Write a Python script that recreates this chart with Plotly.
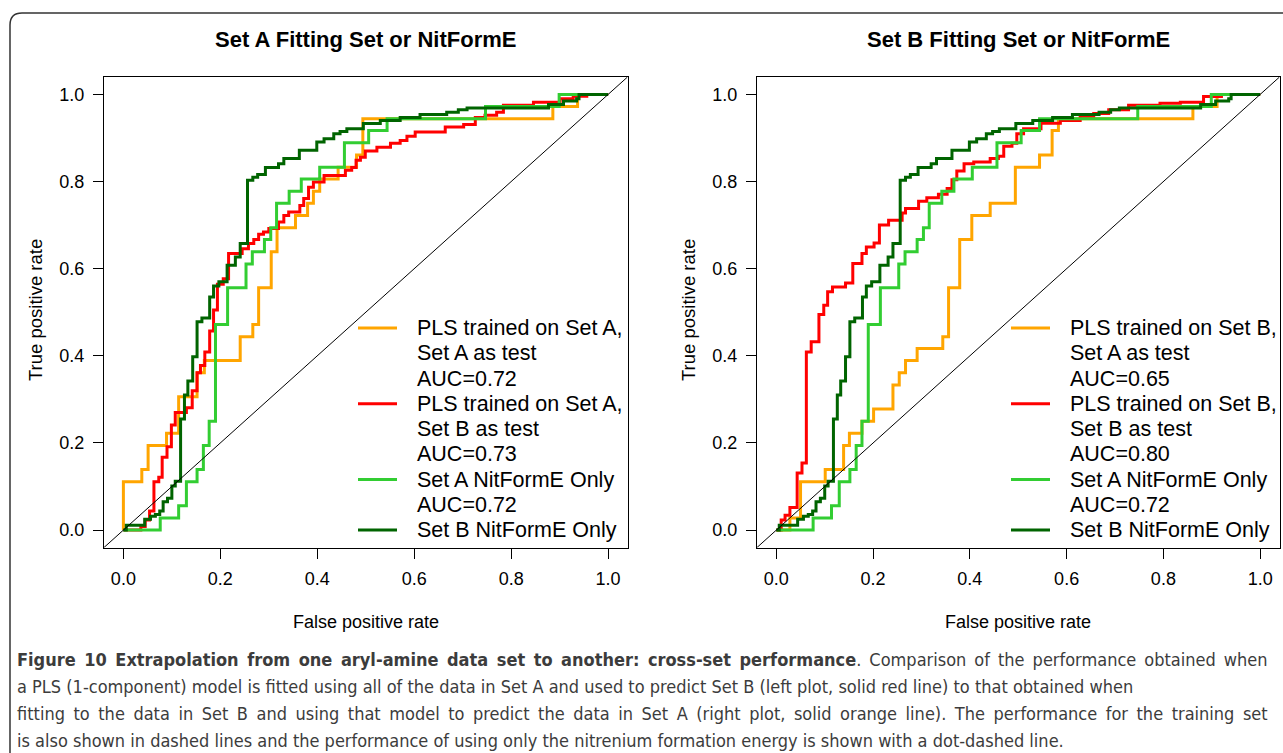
import plotly.graph_objects as go

W, H = 1283, 753

# ---- ROC step vertices (false positive rate, true positive rate) ----
# Left panel: PLS trained on Set A, Set A as test
plsA_testA_fpr = [0, 0, 0.038, 0.051, 0.089, 0.114, 0.152, 0.167, 0.241, 0.267, 0.279, 0.305,
                  0.317, 0.355, 0.38, 0.392, 0.405, 0.443, 0.481, 0.494, 0.886, 0.937, 1.0]
plsA_testA_tpr = [0, 0.111, 0.139, 0.194, 0.222, 0.306, 0.361, 0.389, 0.444, 0.472, 0.556, 0.639,
                  0.694, 0.722, 0.75, 0.778, 0.806, 0.833, 0.861, 0.944, 0.972, 1.0, 1.0]

# Left panel: PLS trained on Set A, Set B as test
plsA_testB_fpr = [0, 0.036, 0.045, 0.054, 0.063, 0.073, 0.08, 0.09, 0.099, 0.107, 0.13, 0.142,
                  0.152, 0.159, 0.168, 0.178, 0.186, 0.194, 0.206, 0.217, 0.245, 0.258, 0.269,
                  0.279, 0.289, 0.3, 0.32, 0.331, 0.341, 0.364, 0.372, 0.382, 0.392, 0.414,
                  0.458, 0.471, 0.48, 0.489, 0.499, 0.523, 0.551, 0.571, 0.585, 0.602, 0.664,
                  0.702, 0.726, 0.746, 0.77, 0.784, 0.846, 0.901, 0.928, 0.956, 1.0]
plsA_testB_tpr = [0, 0.008, 0.023, 0.044, 0.111, 0.121, 0.167, 0.191, 0.241, 0.27, 0.281, 0.32,
                  0.361, 0.378, 0.409, 0.457, 0.505, 0.564, 0.577, 0.635, 0.646, 0.658, 0.667,
                  0.679, 0.684, 0.692, 0.707, 0.722, 0.73, 0.745, 0.761, 0.787, 0.799, 0.814,
                  0.826, 0.832, 0.849, 0.856, 0.87, 0.879, 0.888, 0.894, 0.904, 0.914, 0.925,
                  0.931, 0.947, 0.952, 0.959, 0.975, 0.982, 0.99, 0.996, 1.0, 1.0]

# Right panel: PLS trained on Set B, Set A as test
plsB_testA_fpr = [0, 0.028, 0.05, 0.101, 0.139, 0.151, 0.177, 0.201, 0.241, 0.254, 0.267, 0.291,
                  0.344, 0.356, 0.379, 0.404, 0.442, 0.494, 0.544, 0.57, 0.583, 0.861, 0.911, 1.0]
plsB_testA_tpr = [0, 0.028, 0.111, 0.139, 0.194, 0.222, 0.25, 0.278, 0.333, 0.361, 0.389, 0.417,
                  0.444, 0.556, 0.667, 0.722, 0.75, 0.833, 0.861, 0.917, 0.944, 0.972, 1.0, 1.0]

# Right panel: PLS trained on Set B, Set B as test
plsB_testB_fpr = [0, 0.01, 0.018, 0.028, 0.043, 0.053, 0.062, 0.072, 0.088, 0.098, 0.106, 0.116,
                  0.143, 0.158, 0.177, 0.186, 0.202, 0.213, 0.232, 0.26, 0.267, 0.294, 0.311,
                  0.335, 0.353, 0.363, 0.373, 0.388, 0.408, 0.442, 0.459, 0.47, 0.487, 0.497,
                  0.511, 0.547, 0.587, 0.628, 0.656, 0.687, 0.728, 0.793, 0.835, 0.883, 0.92, 1.0]
plsB_testB_tpr = [0, 0.023, 0.034, 0.052, 0.131, 0.154, 0.409, 0.432, 0.495, 0.516, 0.547, 0.558,
                  0.567, 0.612, 0.635, 0.65, 0.659, 0.7, 0.711, 0.728, 0.738, 0.755, 0.763,
                  0.771, 0.784, 0.804, 0.824, 0.841, 0.845, 0.853, 0.858, 0.881, 0.888, 0.91,
                  0.921, 0.934, 0.94, 0.95, 0.956, 0.965, 0.975, 0.98, 0.982, 0.995, 1.0, 1.0]

# Both panels: nitrenium formation energy alone
nitA_fpr = [0, 0.076, 0.114, 0.13, 0.152, 0.165, 0.177, 0.19, 0.215, 0.253, 0.266, 0.291, 0.304,
            0.316, 0.342, 0.367, 0.405, 0.456, 0.506, 0.544, 0.747, 0.899, 1.0]
nitA_tpr = [0, 0.028, 0.056, 0.111, 0.139, 0.194, 0.25, 0.472, 0.556, 0.611, 0.639, 0.667, 0.694,
            0.75, 0.778, 0.806, 0.833, 0.889, 0.917, 0.944, 0.972, 1.0, 1.0]

nitB_fpr = [0, 0.006, 0.044, 0.056, 0.066, 0.075, 0.082, 0.091, 0.1, 0.107, 0.118, 0.126, 0.133,
            0.143, 0.152, 0.162, 0.178, 0.186, 0.197, 0.214, 0.231, 0.241, 0.256, 0.267, 0.277,
            0.293, 0.32, 0.331, 0.363, 0.399, 0.414, 0.434, 0.447, 0.461, 0.495, 0.53, 0.571,
            0.612, 0.667, 0.691, 0.709, 0.877, 0.908, 0.935, 0.94, 1.0]
nitB_tpr = [0, 0.011, 0.025, 0.032, 0.036, 0.044, 0.065, 0.073, 0.101, 0.112, 0.255, 0.31, 0.342,
            0.398, 0.478, 0.487, 0.535, 0.56, 0.57, 0.608, 0.627, 0.658, 0.803, 0.81, 0.816,
            0.832, 0.841, 0.853, 0.872, 0.891, 0.898, 0.91, 0.915, 0.921, 0.933, 0.94, 0.947,
            0.954, 0.959, 0.965, 0.969, 0.977, 0.985, 0.99, 1.0, 1.0]

# ---- text ----
panel_titles = ["Set A Fitting Set or NitFormE", "Set B Fitting Set or NitFormE"]
tick_vals = [0.0, 0.2, 0.4, 0.6, 0.8, 1.0]
tick_text = ["0.0", "0.2", "0.4", "0.6", "0.8", "1.0"]
x_title = "False positive rate"
y_title = "True positive rate"

legend_left = ["PLS trained on Set A,", "Set A as test", "AUC=0.72",
               "PLS trained on Set A,", "Set B as test", "AUC=0.73",
               "Set A NitFormE Only", "AUC=0.72", "Set B NitFormE Only"]
legend_right = ["PLS trained on Set B,", "Set A as test", "AUC=0.65",
                "PLS trained on Set B,", "Set B as test", "AUC=0.80",
                "Set A NitFormE Only", "AUC=0.72", "Set B NitFormE Only"]
legend_rows = [0, 3, 6, 8]  # text row carrying each coloured key line

caption_lines = [
    "<b>Figure 10 Extrapolation from one aryl-amine data set to another: cross-set performance</b>. "
    "Comparison of the performance obtained when",
    "a PLS (1-component) model is fitted using all of the data in Set A and used to predict Set B "
    "(left plot, solid red line) to that obtained when",
    "fitting to the data in Set B and using that model to predict the data in Set A "
    "(right plot, solid orange line). The performance for the training set",
    "is also shown in dashed lines and the performance of using only the nitrenium formation "
    "energy is shown with a dot-dashed line.",
]
# extra inter-word space (px) so justified caption lines reach the right margin
caption_word_spacing = [2.9, 0, 3.4, 0]

colors = ["#FFA500", "#FF0000", "#32CD32", "#006400"]

FONT = "Liberation Sans, Arial, sans-serif"
CAP_FONT = "Liberation Sans Narrow, DejaVu Sans Condensed, Arial Narrow, Liberation Sans, sans-serif"


def fx(p):
    return p / W


def fy(p):
    return 1 - p / H


panels = [
    dict(xa="x", ya="y", left=104, right=627.5, cx=365.5, ylab_x=35,
         curves=[(plsA_testA_fpr, plsA_testA_tpr), (plsA_testB_fpr, plsA_testB_tpr),
                 (nitA_fpr, nitA_tpr), (nitB_fpr, nitB_tpr)],
         legend=legend_left, key_x0=358, key_x1=397, text_x=415),
    dict(xa="x2", ya="y2", left=757, right=1279.5, cx=1018, ylab_x=688,
         curves=[(plsB_testA_fpr, plsB_testA_tpr), (plsB_testB_fpr, plsB_testB_tpr),
                 (nitA_fpr, nitA_tpr), (nitB_fpr, nitB_tpr)],
         legend=legend_right, key_x0=1011, key_x1=1050, text_x=1068),
]

top_px, bottom_px = 77, 547.5
row_y0, row_step = 328, 25.25

fig = go.Figure()
shapes = []
annotations = []

for i, p in enumerate(panels):
    for (fpr, tpr), c in zip(p["curves"], colors):
        fig.add_trace(go.Scatter(x=fpr, y=tpr, mode="lines", line=dict(color=c, width=3, shape="hv"),
                                 xaxis=p["xa"], yaxis=p["ya"], showlegend=False, hoverinfo="skip"))
    # chance line across the full plotting region
    fig.add_trace(go.Scatter(x=[-0.04, 1.04], y=[-0.04, 1.04], mode="lines",
                             line=dict(color="black", width=1), xaxis=p["xa"], yaxis=p["ya"],
                             showlegend=False, hoverinfo="skip"))

    suffix = "" if i == 0 else "2"
    axis_common = dict(range=[-0.04, 1.04], showgrid=False, zeroline=False, showline=True,
                       linecolor="black", linewidth=1, mirror=True, ticks="outside", ticklen=10,
                       tickwidth=1, tickcolor="black", tickvals=tick_vals, ticktext=tick_text,
                       tickfont=dict(family=FONT, size=18, color="black"), fixedrange=True)
    fig.update_layout(**{
        "xaxis" + suffix: dict(axis_common, domain=[fx(p["left"]), fx(p["right"])],
                               anchor="y" + suffix, ticklabelstandoff=5),
        "yaxis" + suffix: dict(axis_common, domain=[fy(bottom_px), fy(top_px)],
                               anchor="x" + suffix, ticklabelstandoff=5),
    })

    annotations.append(dict(text="<b>%s</b>" % panel_titles[i], x=fx(p["cx"]), y=fy(40),
                            xref="paper", yref="paper", showarrow=False, xanchor="center",
                            yanchor="middle", font=dict(family=FONT, size=22, color="black")))
    annotations.append(dict(text=x_title, x=fx(p["cx"]), y=fy(622), xref="paper", yref="paper",
                            showarrow=False, xanchor="center", yanchor="middle",
                            font=dict(family=FONT, size=18, color="black")))
    annotations.append(dict(text=y_title, x=fx(p["ylab_x"]), y=fy(310), xref="paper", yref="paper",
                            showarrow=False, xanchor="center", yanchor="middle", textangle=-90,
                            font=dict(family=FONT, size=18.5, color="black")))

    for k, line in enumerate(p["legend"]):
        yy = row_y0 + k * row_step
        annotations.append(dict(text=line, x=fx(p["text_x"]), y=fy(yy), xref="paper", yref="paper",
                                showarrow=False, xanchor="left", yanchor="middle",
                                font=dict(family=FONT, size=21.5, color="black")))
    for row, c in zip(legend_rows, colors):
        yy = row_y0 + row * row_step
        shapes.append(dict(type="line", xref="paper", yref="paper", x0=fx(p["key_x0"]),
                           x1=fx(p["key_x1"]), y0=fy(yy), y1=fy(yy), line=dict(color=c, width=3)))

# caption
cap_y = [659, 686, 713, 740]
for line, yy, ws in zip(caption_lines, cap_y, caption_word_spacing):
    text = '<span style="word-spacing:%.1fpx">%s</span>' % (ws, line) if ws else line
    annotations.append(dict(text=text, x=fx(15), y=fy(yy), xref="paper", yref="paper",
                            showarrow=False, xanchor="left", yanchor="middle",
                            font=dict(family=CAP_FONT, size=18, color="#3c3c3c")))

# rounded outer frame (left and top edges run off the page)
frame = ("M %f,%f L %f,%f Q %f,%f %f,%f L %f,%f" %
         (fx(10), fy(800), fx(10), fy(25), fx(10), fy(13), fx(22), fy(13), fx(1320), fy(13)))
shapes.append(dict(type="path", xref="paper", yref="paper", path=frame,
                   line=dict(color="#333333", width=1.5)))

fig.update_layout(width=W, height=H, margin=dict(l=0, r=0, t=0, b=0),
                  paper_bgcolor="white", plot_bgcolor="white",
                  shapes=shapes, annotations=annotations, showlegend=False)

fig.write_html("out.html")
